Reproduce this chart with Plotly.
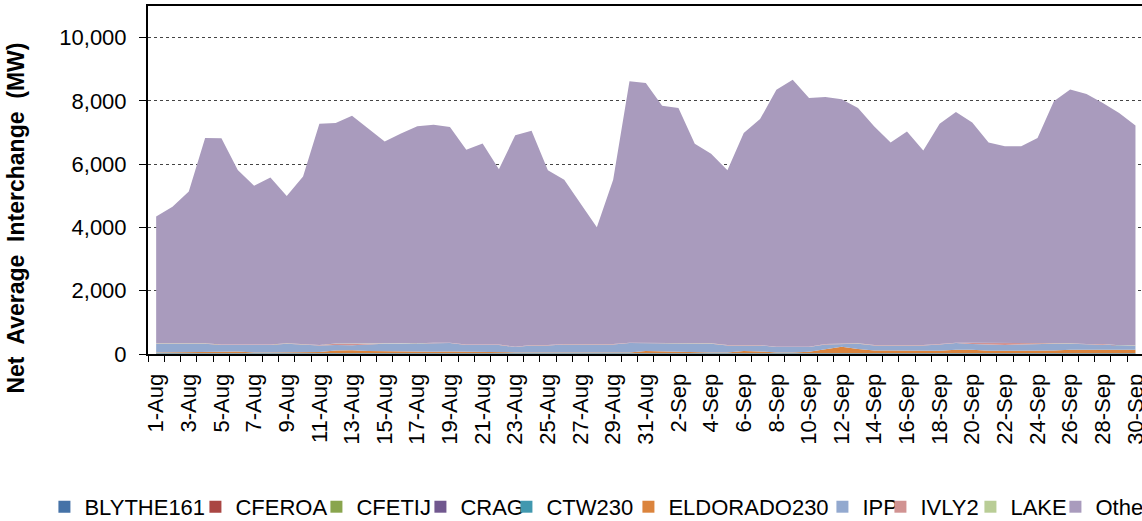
import plotly.graph_objects as go

# ---- data -------------------------------------------------------------
aug = [f"{d}-Aug" for d in range(1, 32)]
sep = [f"{d}-Sep" for d in range(1, 31)]
dates = aug + sep
tick_text = [d if i % 2 == 0 else "" for i, d in enumerate(dates)]

blythe161 = [5] * 61
cferoa = [5] * 61
cfetij = [3] * 61
crag = [10] * 61
ctw230 = [8] * 61
lake = [3] * 61

eldorado230 = [20, 20, 20, 20, 40, 50, 20, 20, 20, 20,
               30, 80, 90, 60, 50, 60, 50, 40, 50, 40,
               20, 20, 20, 20, 20, 20, 20, 20, 20, 20,
               60, 50, 20, 20, 20, 20, 60, 50, 20, 20,
               40, 120, 200, 130, 80, 80, 80, 70, 70, 100,
               100, 70, 70, 70, 70, 80, 100, 100, 100, 100,
               100]

ivly2 = [10, 10, 10, 10, 10, 10, 10, 10, 10, 10,
         10, 40, 50, 30, 10, 10, 10, 10, 10, 10,
         10, 10, 10, 10, 10, 10, 10, 10, 10, 10,
         10, 10, 10, 10, 10, 10, 10, 10, 10, 10,
         10, 10, 10, 10, 10, 10, 10, 10, 10, 10,
         40, 50, 50, 30, 10, 10, 10, 10, 10, 10,
         10]

ipp = [273, 273, 273, 273, 216, 206, 236, 236, 273, 236,
       211, 176, 156, 206, 243, 233, 243, 274, 264, 216,
       236, 236, 168, 221, 221, 252, 252, 252, 252, 294,
       254, 264, 273, 273, 273, 221, 181, 191, 168, 168,
       148, 152, 72, 163, 161, 161, 161, 171, 202, 214,
       184, 204, 183, 203, 223, 213, 193, 172, 172, 130,
       130]

other = [4010, 4320, 4800, 6490, 6520, 5520, 5020, 5280, 4660, 5310,
         6990, 6970, 7200, 6780, 6380, 6630, 6860, 6890, 6820, 6160,
         6350, 5540, 6680, 6770, 5520, 5190, 4450, 3690, 5190, 8260,
         8210, 7490, 7440, 6310, 5990, 5520, 6700, 7140, 8120, 8440,
         7860, 7810, 7740, 7440, 6910, 6400, 6750, 6150, 6960, 7290,
         6960, 6330, 6230, 6230, 6490, 7650, 8020, 7900, 7620, 7340,
         6950]

series_names = ["BLYTHE161", "CFEROA", "CFETIJ", "CRAG", "CTW230",
                "ELDORADO230", "IPP", "IVLY2", "LAKE", "Other"]
series_values = [blythe161, cferoa, cfetij, crag, ctw230,
                 eldorado230, ipp, ivly2, lake, other]
series_colors = ["#4572A7", "#AA4643", "#89A54E", "#71588F", "#4198AF",
                 "#DB843D", "#93A9CF", "#D19392", "#B9CD96", "#A99BBD"]
legend_widths = [106, 76, 59, 41, 77, 149, 13, 45, 40, 60]

y_ticks = [0, 2000, 4000, 6000, 8000, 10000]

FONT = "Liberation Sans, Arial, sans-serif"

fig = go.Figure()
for name, vals, col in zip(series_names, series_values, series_colors):
    fig.add_trace(go.Scatter(
        x=dates, y=vals, name=name, stackgroup="one", mode="lines",
        line=dict(width=0, color=col), fillcolor=col, showlegend=False,
        hoverinfo="x+y+name"))

for name, col, lw in zip(series_names, series_colors, legend_widths):
    fig.add_trace(go.Scatter(
        x=[None], y=[None], name=name, mode="markers",
        marker=dict(symbol="square", size=12, color=col),
        showlegend=True, legendwidth=lw))

fig.update_layout(
    width=1142, height=521,
    margin=dict(l=148, r=0, t=6, b=167, autoexpand=False),
    paper_bgcolor="white", plot_bgcolor="white",
    font=dict(family=FONT, size=22, color="black"),
    showlegend=True,
    legend=dict(orientation="h", x=-0.1042, xanchor="left",
                y=-0.379, yanchor="top", traceorder="normal",
                font=dict(family=FONT, size=22, color="black"),
                bgcolor="rgba(0,0,0,0)"),
    annotations=[dict(
        text="Net\u00a0 Average\u00a0 Interchange\u00a0 (MW)",
        xref="paper", yref="paper", x=-0.1328, y=0.392,
        xanchor="center", yanchor="middle", textangle=-90, showarrow=False,
        font=dict(family=FONT, size=23, color="black", weight="bold"))],
)

fig.update_xaxes(
    type="category", categoryorder="array", categoryarray=dates,
    range=[-0.5, 60.4],
    tickmode="array", tickvals=dates, ticktext=tick_text,
    tickangle=-90, tickson="boundaries",
    ticks="outside", ticklen=6, tickcolor="black", tickwidth=1,
    showline=True, linecolor="black", linewidth=2, mirror=True,
    showgrid=False, zeroline=False, ticklabelstandoff=9,
    tickfont=dict(family=FONT, size=22, color="black"),
)
fig.update_yaxes(
    range=[0, 11000], tickmode="array", tickvals=y_ticks,
    tickformat=",", ticks="outside", ticklen=7, tickcolor="black",
    showline=True, linecolor="black", linewidth=2, mirror=False,
    showgrid=True, gridcolor="#444444", griddash="dot", gridwidth=1,
    zeroline=False, ticklabelstandoff=8,
    tickfont=dict(family=FONT, size=22, color="black"),
)

fig.write_html("out.html",
               config={"displayModeBar": False},
               post_script="document.body.style.margin='0';"
                           "document.body.style.overflow='hidden';")
